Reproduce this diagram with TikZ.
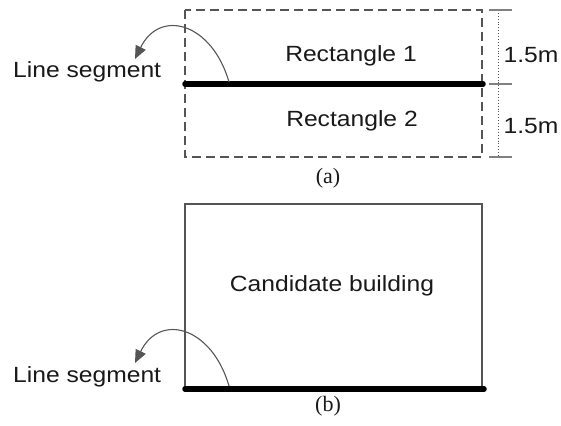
\documentclass[tikz,border=0pt]{standalone}
\usepackage{fontspec}
\setmainfont{Liberation Serif}
\newfontfamily\lab[FakeStretch=1.12]{Liberation Sans}
\usetikzlibrary{arrows.meta}
\definecolor{dgray}{HTML}{555555}
\begin{document}
\begin{tikzpicture}[x=1pt,y=-1pt,
  lbl/.style={inner sep=0pt,font=\lab\fontsize{22}{26}\selectfont,text=black!90},
  captxt/.style={inner sep=0pt,font=\fontsize{22}{25}\selectfont,text=black!90},
  thick seg/.style={line width=5.5pt,line cap=round,black},
  dashbox/.style={draw=dgray,line width=1.6pt,dash pattern=on 9pt off 5pt},
  solidbox/.style={draw=dgray,line width=1.6pt},
  bend arrow/.style={draw=dgray,line width=1.1pt,-{Triangle[length=13pt,width=11pt]}},
  dimline/.style={draw=dgray,line width=0.9pt,dotted},
  tickline/.style={draw=gray,line width=1.1pt}]
\useasboundingbox (0,0) rectangle (561,425);
% ---------- (a) ----------
\coordinate (aTL) at (185,10);
\coordinate (aBR) at (482,157);
\draw[dashbox] (aTL) rectangle (aBR);
\coordinate (aL) at (185,84);
\coordinate (aR) at (483,84);
\draw[thick seg] (aL) -- (aR);
\node[lbl] (r1) at (351,56) {Rectangle 1};
\node[lbl] (r2) at (352,121) {Rectangle 2};
\node[lbl,anchor=base west] (lsa) at (13,78) {Line segment};
\coordinate (aS) at (229,82);
\coordinate (aT) at (135,59);
\draw[bend arrow] (aS) .. controls (212,23) and (160,8) .. (aT);
% dimension
\coordinate (d0) at (498,10);
\coordinate (d1) at (498,84);
\coordinate (d2) at (498,157);
\draw[dimline] (d0) -- (d2);
\foreach \c in {d0,d1,d2}{\draw[tickline] ([xshift=-9pt]\c) -- ([xshift=14pt]\c);}
\node[lbl] (m1) at (531,55) {1.5m};
\node[lbl] (m2) at (531,126) {1.5m};
\node[captxt] (ca) at (328,178) {(a)};
% ---------- (b) ----------
\coordinate (bTL) at (185,204);
\coordinate (bBR) at (482,388);
\draw[solidbox] (bTL) rectangle (bBR);
\coordinate (bL) at (185,389);
\coordinate (bR) at (484,389);
\draw[thick seg] (bL) -- (bR);
\node[lbl] (cb) at (332,286) {Candidate building};
\node[lbl,anchor=base west] (lsb) at (13,382) {Line segment};
\coordinate (bS) at (229,386);
\coordinate (bT) at (135,363);
\draw[bend arrow] (bS) .. controls (212,327) and (160,312) .. (bT);
\node[captxt] (cbb) at (328,406) {(b)};
\end{tikzpicture}
\end{document}
